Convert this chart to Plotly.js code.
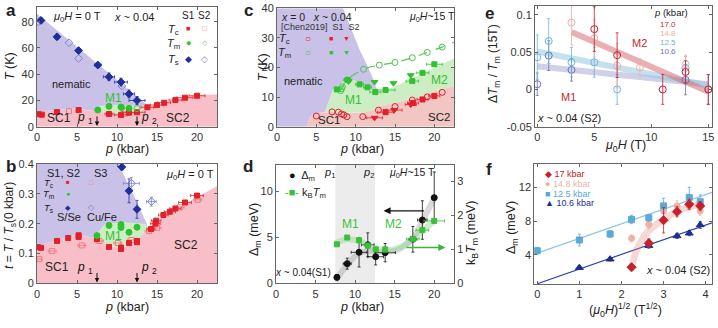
<!DOCTYPE html>
<html>
<head>
<meta charset="utf-8">
<script src="https://cdn.plot.ly/plotly-3.0.1.min.js"></script>
<style>body{margin:0;background:#fff}#chart{width:718px;height:328px}</style>
</head>
<body>
<div id="chart"></div>
<script>
// critical pressures p1, p2 (kbar)
var pCrit = [7.5, 12.5];

// ---- panel a : T (K) vs p, zero field
var aTsS1p = [0.5, 2.5, 5.2, 7.6, 9.0, 10.5, 11.5, 12.5];
var aTsS1T = [81, 68.5, 58, 47, 38, 34, 25, 20];
var aTsS1ex = [0.3, 0.3, 0.3, 0.4, 0.7, 0.8, 0.7, 1.0];
var aTsS1ey = [2, 2, 2, 2, 3, 3, 3, 3];
var aTsS2p = [0.2, 4.0, 5.2, 10.6];
var aTsS2T = [80, 64, 52, 31];
var aTcS1p = [0.2, 0.6, 2.5, 5.2, 9.0, 10.5, 11.5, 12.5, 13.8, 15.0, 15.9, 17.3, 18.5, 20.0];
var aTcS1T = [9.5, 9.2, 11.2, 12.7, 9.7, 9.0, 10.7, 11, 14.8, 16.5, 18.3, 20.3, 22.1, 23.6];
var aTcS1ex = [0, 0, 0, 0, 0.5, 0.8, 0.8, 1, 0.8, 0.8, 0.8, 0.8, 1, 1];
var aTcS2p = [4.0, 10.8];
var aTcS2T = [11.8, 9.8];
var aTmS1p = [7.6, 9.0, 10.5, 11.5];
var aTmS1T = [12.7, 15.5, 15.0, 14.0];
var aTmS2p = [10.6, 12.5];
var aTmS2T = [14.5, 13.8];
// phase regions (boundaries)
var aSCp = [0, 0, 2.5, 5, 6, 7.5, 9, 10.5, 12, 13, 14, 15.5, 17, 18.5, 20, 22.5, 22.5];
var aSCT = [0, 11.5, 12.8, 13.8, 12.8, 11.5, 10.5, 10.2, 11, 12.5, 15, 17.5, 20, 22.5, 24, 24.8, 0];
var aNemP = [0, 13.9, 13.0, 12, 10.5, 9, 7.5, 6, 5, 2.5, 0];
var aNemT = [86, 16, 12.5, 11, 10.2, 10.5, 11.5, 12.8, 13.8, 12.8, 11.5];
var aM1p = [7.5, 7.8, 9, 11, 13, 13.8, 13, 12, 10.5, 9];
var aM1T = [11.5, 15.8, 16.8, 16.6, 15.8, 15.2, 12.5, 11, 10.2, 10.5];

// ---- panel b : t = T/Ts(0 kbar) vs p
var bTcS12p = [0.1, 0.5, 2.5, 3.9, 5.2, 5.2, 7.5, 9.0, 10.5, 10.5, 11.5, 12.5, 12.5, 14.25, 14.9, 14.8, 15.8, 16.6, 17.3, 18.5, 20.0];
var bTcS12t = [0.121, 0.119, 0.142, 0.152, 0.161, 0.155, 0.148, 0.122, 0.120, 0.115, 0.135, 0.142, 0.138, 0.182, 0.210, 0.200, 0.229, 0.240, 0.251, 0.271, 0.294];
var bTcS12ex = [0, 0, 0, 0, 0, 0, 0, 0, 0, 0, 0, 0, 0, 0.5, 0.6, 0.6, 0.6, 0.7, 0.7, 0.8, 0.8];
var bTcS3p = [0.3, 1.9, 5.6, 7.8, 10.1, 11.8, 14.0, 15.0, 17.9, 20.1];
var bTcS3t = [0.081, 0.108, 0.127, 0.142, 0.135, 0.145, 0.175, 0.186, 0.255, 0.280];
var bTcS3ex = [0.3, 0.5, 0.5, 0.5, 0.5, 0.5, 0.5, 0.5, 0.5, 0.5];
var bTmP = [7.5, 9.0, 10.5, 10.5, 11.5, 12.5];
var bTmT = [0.160, 0.194, 0.197, 0.187, 0.171, 0.188];
var bTsS12p = [10.6, 11.5, 12.5];
var bTsS12t = [0.39, 0.31, 0.248];
var bTsS12ey = [0.01, 0.04, 0.03];
var bTsS3p = [11.8, 14.3];
var bTsS3t = [0.335, 0.274];
var bTsS3ex = [1.0, 0.6];
var bTsS3ey = [0.02, 0.015];
var bSCp = [0, 0, 2.5, 5, 7.5, 9, 10.5, 12, 13.5, 15, 17, 20, 22.5, 22.5];
var bSCt = [0, 0.125, 0.145, 0.163, 0.150, 0.125, 0.116, 0.135, 0.170, 0.210, 0.245, 0.290, 0.325, 0];
var bNemP = [0, 0, 10.2, 11.5, 12.7, 13.8, 13.5, 12, 10.5, 9, 7.5, 5, 2.5];
var bNemT = [0.125, 0.4, 0.4, 0.33, 0.26, 0.195, 0.170, 0.135, 0.116, 0.125, 0.150, 0.163, 0.145];
var bM1p = [7.5, 7.6, 8.5, 11, 13.5, 13.9, 13.5, 12, 10.5, 9];
var bM1t = [0.150, 0.170, 0.200, 0.205, 0.200, 0.190, 0.170, 0.135, 0.116, 0.125];

// ---- panel c : T (K) vs p at ~15 T
var cTcChenP = [5.0, 7.0, 7.8, 8.2, 8.5, 8.9, 10.9, 12.9, 15.0, 17.2, 19.1, 21.0];
var cTcChenT = [3.6, 5.0, 4.9, 4.3, 4.0, 3.4, 3.4, 5.6, 6.8, 9.0, 10.1, 11.6];
var cTmChenP = [8.1, 8.2, 8.3, 8.9, 11.0, 13.0, 15.0, 17.2, 19.1, 21.0];
var cTmChenT = [12.2, 12.8, 13.5, 15.8, 19.4, 20.8, 21.7, 23.3, 25.1, 26.9];
var cGuideP = [8.0, 8.9, 11.0, 13.0, 15.0, 17.2, 19.1, 21.0, 22.5];
var cGuideT = [12.0, 15.8, 19.4, 20.8, 21.7, 23.3, 25.1, 26.9, 28.5];
var cTcS1p = [13.8, 17.3, 18.5, 20.0];
var cTcS1T = [4.9, 8.0, 9.2, 10.4];
var cTcS1ex = [1.0, 0.7, 0.7, 0.7];
var cTcS2p = [12.4, 14.9, 17.0];
var cTcS2T = [3.0, 5.6, 7.5];
var cTcS2ex = [1.0, 1.0, 0.7];
var cTmS1p = [7.6, 9.0, 10.5, 11.5, 12.5, 13.8, 17.2, 18.5, 20.0];
var cTmS1T = [12.6, 15.8, 14.3, 13.3, 11.7, 12.4, 15.4, 18.2, 21.1];
var cTmS1ex = [0, 0.5, 0.5, 0.5, 0.7, 1.2, 0.8, 0.8, 1.0];
var cTmS2p = [9.1, 12.4, 14.8, 17.0];
var cTmS2T = [15.3, 15.1, 14.7, 17.4];
var cSCp = [3.8, 4.2, 5, 7, 9, 11, 12, 13, 15.5, 18, 20, 22.5, 22.5];
var cSCT = [0, 3.5, 4.6, 5, 4.8, 4.8, 5.5, 7, 8.4, 10.2, 12, 13.7, 0];
var cNemP = [0, 0, 8.4, 9.5, 10.5, 11.6, 12.4, 12.7, 12, 10.5, 9, 7.1, 6.1, 5, 4.2, 3.8];
var cNemT = [0, 40, 40, 33, 26, 20, 15, 12, 12.5, 15, 16.3, 12.4, 4.9, 4.6, 3.5, 0];
var cMp = [6.1, 7.1, 9, 10.5, 12, 12.7, 14, 17, 20, 22.5, 22.5, 20, 18, 15.5, 13, 12, 11, 9, 7];
var cMT = [4.9, 12.4, 16.3, 15, 12.5, 12, 12.5, 16, 20, 23, 13.7, 12, 10.2, 8.4, 7, 5.5, 4.8, 4.8, 5];

// ---- panel d : gap and kB*Tm vs p at ~15 T
var dP = [7.7, 9.0, 10.5, 11.6, 12.6, 13.8, 17.3, 18.5, 20.0];
var dDelta = [0.65, 2.14, 3.38, 4.2, 2.9, 3.34, 4.8, 6.9, 9.34];
var dDeltaEx = [0, 0.5, 1.0, 0.8, 1.0, 1.3, 0.5, 0.6, 0.3];
var dDeltaEy = [0.3, 0.6, 1.6, 1.3, 0.9, 1.0, 1.4, 2.1, 2.8];
var dKT = [1.15, 1.35, 1.27, 1.11, 1.0, 1.0, 1.31, 1.57, 1.84];
var dKTex = [0, 0, 0, 0, 0, 0, 0.8, 0.8, 1.3];
var dTrendP = [7.5, 9, 10.5, 12, 13.8, 15.5, 17.3, 18.5, 20];
var dTrendDelta = [0.3, 2.0, 3.3, 3.5, 3.4, 3.7, 4.9, 6.8, 9.3];
var dTrendKT = [1.18, 1.3, 1.25, 1.08, 0.98, 1.05, 1.3, 1.55, 1.82];

// ---- panel e : dTm/Tm(15T) vs field
var e170H = [5, 7, 11, 13, 15];
var e170v = [0.081, 0.046, 0, 0.0235, 0];
var e170err = [0.03, 0.03, 0.02, 0.015, 0.02];
var e148H = [3, 5, 7, 9, 13, 15];
var e148v = [0.0897, 0.0687, 0.032, 0.0293, 0.034, 0];
var e148err = [0.03, 0.025, 0.03, 0.012, 0.012, 0.02];
var e125H = [0, 1, 3, 5, 7, 13, 15];
var e125v = [0.0432, 0.065, 0.0365, 0.0365, 0, 0.029, 0];
var e125err = [0.03, 0.03, 0.02, 0.02, 0.02, 0.015, 0.02];
var e106H = [0, 1, 3, 13, 15];
var e106v = [0.007, 0.0454, 0.0262, 0.0128, 0];
var e106err = [0.015, 0.02, 0.015, 0.02, 0.02];
var eFit170H = [3, 15], eFit170v = [0.077, -0.003];
var eFit125H = [0, 15], eFit125v = [0.051, 0.005];
var eFit106H = [0, 15], eFit106v = [0.031, 0.007];

// ---- panel f : gap vs sqrt(field)
var f170s = [2.24, 2.65, 3.0, 3.32, 3.61, 3.87];
var f170d = [2.55, 5.4, 8.1, 9.1, 10.0, 9.8];
var f170err = [0.3, 0.5, 1.5, 0.6, 0.6, 0.5];
var f148s = [2.24, 2.65, 3.0, 3.32, 3.61, 3.87];
var f148d = [5.97, 7.6, 9.2, 9.8, 9.8, 9.2];
var f148err = [0.4, 0.5, 0.8, 0.6, 0.5, 0.5];
var f125s = [0, 1.0, 1.73, 2.24, 2.65, 3.0, 3.61, 3.87];
var f125d = [4.5, 5.77, 6.48, 8.2, 8.4, 9.8, 10.8, 10.3];
var f125err = [0.4, 0.7, 0.4, 0.5, 0.4, 0.9, 1.2, 0.8];
var f106s = [1.0, 1.73, 2.65, 3.32, 3.61, 3.87];
var f106d = [2.5, 3.5, 5.1, 6.25, 6.57, 7.55];
var f106err = [0.2, 0.2, 0.3, 0.3, 0.3, 0.4];
var fFit125s = [-0.07, 4.15], fFit125d = [4.1, 11.4];
var fFit106s = [0.0, 4.15], fFit106d = [0.6, 7.8];
var fCurveS = [2.24, 2.36, 2.5, 2.65, 3.0, 3.3, 3.6, 3.87];
var fCurveD = [2.5, 4.6, 5.9, 6.9, 8.2, 9.1, 9.7, 10.0];

// colours
var RED = '#e3202a', RED2 = '#f07a80', GREEN = '#2ec22e', GREEN2 = '#4cc44c', BLUE = '#1f2e9c', BLUE2 = '#7b86cc';
var FILL_NEM = '#c9c1e8', FILL_SC = '#f8bfc9', FILL_M = '#cdeec4', FILL_SC_C = '#f1c6c3';
var C170 = '#c41f2f', C148 = '#efb0a4', C125 = '#6fb3d9', C106 = '#6a70b8';
var FONT = 'Liberation Sans, Arial, Helvetica, sans-serif';

var W = 718, H = 328;
function px(a, b) { return [a / W, b / W]; }
function py(top, bottom) { return [1 - bottom / H, 1 - top / H]; }

function area(x, y, xa, ya, color) {
  return {x: x, y: y, xaxis: xa, yaxis: ya, type: 'scatter', mode: 'lines', fill: 'toself',
    fillcolor: color, line: {width: 0}, hoverinfo: 'skip', showlegend: false};
}
function pts(x, y, xa, ya, sym, color, size, ex, ey) {
  var t = {x: x, y: y, xaxis: xa, yaxis: ya, type: 'scatter', mode: 'markers', hoverinfo: 'skip', showlegend: false,
    marker: {symbol: sym, color: color, size: size, line: {color: color, width: 1}}};
  if (ex) t.error_x = {type: 'data', array: ex, color: color, thickness: 0.8, width: 1.5};
  if (ey) t.error_y = {type: 'data', array: ey, color: color, thickness: 0.8, width: 1.5};
  return t;
}
function band(x, y, xa, ya, color, w, dash) {
  return {x: x, y: y, xaxis: xa, yaxis: ya, type: 'scatter', mode: 'lines', hoverinfo: 'skip', showlegend: false,
    line: {color: color, width: w, shape: 'spline', dash: dash || 'solid'}};
}

var traces = [
  // a
  area(aSCp, aSCT, 'x', 'y', FILL_SC),
  area(aNemP, aNemT, 'x', 'y', FILL_NEM),
  area(aM1p, aM1T, 'x', 'y', FILL_M),
  pts(aTsS2p, aTsS2T, 'x', 'y', 'diamond-open', BLUE2, 6),
  pts(aTsS1p, aTsS1T, 'x', 'y', 'diamond', BLUE, 6, aTsS1ex, aTsS1ey),
  pts(aTcS2p, aTcS2T, 'x', 'y', 'square-open', RED2, 5),
  pts(aTcS1p, aTcS1T, 'x', 'y', 'square', RED, 5, aTcS1ex),
  pts(aTmS2p, aTmS2T, 'x', 'y', 'circle-open', GREEN2, 6),
  pts(aTmS1p, aTmS1T, 'x', 'y', 'circle', GREEN, 6),
  // b
  area(bSCp, bSCt, 'x2', 'y2', FILL_SC),
  area(bNemP, bNemT, 'x2', 'y2', FILL_NEM),
  area(bM1p, bM1t, 'x2', 'y2', FILL_M),
  pts(bTsS3p, bTsS3t, 'x2', 'y2', 'diamond-open', BLUE2, 6, bTsS3ex, bTsS3ey),
  pts(bTsS12p, bTsS12t, 'x2', 'y2', 'diamond', BLUE, 6, null, bTsS12ey),
  pts(bTcS3p, bTcS3t, 'x2', 'y2', 'square-open', RED2, 5, bTcS3ex),
  pts(bTcS12p, bTcS12t, 'x2', 'y2', 'square', RED, 5, bTcS12ex),
  pts(bTmP, bTmT, 'x2', 'y2', 'circle', GREEN, 6),
  // c
  area(cSCp, cSCT, 'x3', 'y3', FILL_SC_C),
  area(cNemP, cNemT, 'x3', 'y3', FILL_NEM),
  area(cMp, cMT, 'x3', 'y3', FILL_M),
  band(cGuideP, cGuideT, 'x3', 'y3', '#55c655', 1.2, 'dash'),
  pts(cTcChenP, cTcChenT, 'x3', 'y3', 'circle-open', RED, 6),
  pts(cTmChenP, cTmChenT, 'x3', 'y3', 'circle-open', GREEN2, 6),
  pts(cTcS1p, cTcS1T, 'x3', 'y3', 'square', RED, 5, cTcS1ex),
  pts(cTcS2p, cTcS2T, 'x3', 'y3', 'triangle-down', RED, 6, cTcS2ex),
  pts(cTmS1p, cTmS1T, 'x3', 'y3', 'square', GREEN, 5, cTmS1ex),
  pts(cTmS2p, cTmS2T, 'x3', 'y3', 'triangle-down', GREEN, 6),
  // d
  band(dTrendP, dTrendDelta, 'x4', 'y4', 'rgba(150,150,150,0.35)', 6),
  band(dTrendP, dTrendKT, 'x4', 'y7', 'rgba(120,205,120,0.35)', 6),
  pts(dP, dKT, 'x4', 'y7', 'square', '#3cbf3c', 5, dKTex),
  pts(dP, dDelta, 'x4', 'y4', 'circle', '#111', 6, dDeltaEx, dDeltaEy),
  // e
  band(eFit106H, eFit106v, 'x5', 'y5', 'rgba(150,150,205,0.45)', 6),
  band(eFit125H, eFit125v, 'x5', 'y5', 'rgba(150,200,225,0.55)', 6),
  band(eFit170H, eFit170v, 'x5', 'y5', 'rgba(215,110,115,0.55)', 6),
  pts(e106H, e106v, 'x5', 'y5', 'circle-open', C106, 7, null, e106err),
  pts(e125H, e125v, 'x5', 'y5', 'circle-open', C125, 7, null, e125err),
  pts(e148H, e148v, 'x5', 'y5', 'circle-open', C148, 7, null, e148err),
  pts(e170H, e170v, 'x5', 'y5', 'circle-open', C170, 7, null, e170err),
  // f
  band(fFit125s, fFit125d, 'x6', 'y6', '#8cc6e4', 1.2),
  band(fFit106s, fFit106d, 'x6', 'y6', '#3442a4', 1.2),
  band(fCurveS, fCurveD, 'x6', 'y6', 'rgba(235,140,140,0.35)', 7),
  pts(f148s, f148d, 'x6', 'y6', 'circle', C148, 6, null, f148err),
  pts(f125s, f125d, 'x6', 'y6', 'square', '#5aa9d6', 6, null, f125err),
  pts(f106s, f106d, 'x6', 'y6', 'triangle-up', '#1e2d8f', 7, null, f106err),
  pts(f170s, f170d, 'x6', 'y6', 'diamond', '#c8202a', 7, null, f170err)
];

function axis(dom, range, extra) {
  var o = {domain: dom, range: range, showgrid: false, zeroline: false, showline: true,
    linecolor: '#666', linewidth: 1, mirror: 'ticks', ticks: 'inside', ticklen: 3,
    tickcolor: '#666', tickfont: {size: 11, color: '#333'}, fixedrange: true};
  for (var k in extra) o[k] = extra[k];
  return o;
}

var ann = [];
function t(text, x, y, xr, yr, size, color, extra) {
  var a = {text: text, x: x, y: y, xref: xr, yref: yr, showarrow: false,
    font: {size: size, color: color || '#222', family: FONT}, xanchor: 'center', yanchor: 'middle'};
  for (var k in extra) a[k] = extra[k];
  ann.push(a);
}
function pt(text, xpx, ypx, size, extra) {
  var e = {borderpad: 0};
  for (var k in extra) e[k] = extra[k];
  t(text, xpx / W, 1 - ypx / H, 'paper', 'paper', size, '#222', e);
}
function arrow(x, y, xr, yr) {
  ann.push({x: x, y: y, xref: xr, yref: yr, text: '', showarrow: true, ax: 0, ay: -11,
    arrowhead: 2, arrowsize: 0.9, arrowwidth: 1, arrowcolor: '#111'});
}

// panel letters
[['a', 11, 10], ['b', 11, 166], ['c', 248, 10], ['d', 248, 166], ['e', 489, 13], ['f', 489, 169]].forEach(function (l) {
  pt('<b>' + l[0] + '</b>', l[1], l[2], 17);
});

// axis titles
pt('<i>p</i> (kbar)', 127, 149, 12.5);
pt('<i>T</i> (K)', 10, 66, 12.5, {textangle: -90});
pt('<i>p</i> (kbar)', 127, 307, 12.5);
pt('<i>t</i> = <i>T</i> / <i>T</i><sub>s</sub>(0 kbar)', 10, 226, 12, {textangle: -90});
pt('<i>p</i> (kbar)', 362, 149, 12.5);
pt('<i>T</i> (K)', 263, 67, 12.5, {textangle: -90});
pt('<i>p</i> (kbar)', 362, 307, 12.5);
pt('Δ<sub>m</sub> (meV)', 255, 230, 12.5, {textangle: -90});
pt('k<sub>B</sub><i>T</i><sub>m</sub> (meV)', 472, 232, 12.5, {textangle: -90});
pt('<i>μ</i><sub>0</sub><i>H</i> (T)', 625, 146, 12.5);
pt('Δ<i>T</i><sub>m</sub> / <i>T</i><sub>m</sub> (15T)', 494, 64, 12, {textangle: -90});
pt('(<i>μ</i><sub>0</sub><i>H</i>)<sup>1/2</sup> (T<sup>1/2</sup>)', 625, 310, 12.5);
pt('Δ<sub>m</sub> (meV)', 512, 228, 12.5, {textangle: -90});

// panel a texts
t('<i>μ</i><sub>0</sub><i>H</i> = 0 T', 5.0, 83.5, 'x', 'y', 11);
t('<i>x</i> ~ 0.04', 12.1, 83.5, 'x', 'y', 11);
t('S1', 18.9, 85, 'x', 'y', 10); t('S2', 20.9, 85, 'x', 'y', 10);
t('<i>T</i><sub>c</sub>', 17.1, 74, 'x', 'y', 11);
t('<i>T</i><sub>m</sub>', 17.1, 63, 'x', 'y', 11);
t('<i>T</i><sub>s</sub>', 17.1, 51, 'x', 'y', 11);
t('■', 18.9, 74.5, 'x', 'y', 7, RED); t('□', 20.9, 74.5, 'x', 'y', 8, RED2);
t('●', 18.9, 63.5, 'x', 'y', 9, GREEN); t('○', 20.9, 63.5, 'x', 'y', 9, GREEN2);
t('◆', 18.9, 51.5, 'x', 'y', 9, BLUE); t('◇', 20.9, 51.5, 'x', 'y', 9, BLUE2);
t('nematic', 4.3, 32.5, 'x', 'y', 11);
t('M1', 9.5, 21.5, 'x', 'y', 12, GREEN);
t('SC1', 2.8, 6.3, 'x', 'y', 12);
t('SC2', 17.6, 6.3, 'x', 'y', 12);
t('<i>p</i> <sub>1</sub>', pCrit[0] - 0.2, 6.5, 'x', 'y', 12, '#111', {xanchor: 'right'});
t('<i>p</i> <sub>2</sub>', pCrit[1] + 0.3, 6.5, 'x', 'y', 12, '#111', {xanchor: 'left'});
arrow(pCrit[0], 0.6, 'x', 'y'); arrow(pCrit[1], 0.6, 'x', 'y');

// panel b texts
t('S1, S2', 3.3, 0.369, 'x2', 'y2', 11); t('S3', 7.9, 0.369, 'x2', 'y2', 11);
t('<i>T</i><sub>c</sub>', 1.5, 0.337, 'x2', 'y2', 9.5);
t('<i>T</i><sub>m</sub>', 1.5, 0.298, 'x2', 'y2', 9.5);
t('<i>T</i><sub>s</sub>', 1.5, 0.253, 'x2', 'y2', 9.5);
t('■', 3.9, 0.339, 'x2', 'y2', 6, RED); t('□', 6.8, 0.339, 'x2', 'y2', 7, RED2);
t('●', 3.9, 0.300, 'x2', 'y2', 7, GREEN);
t('◆', 3.9, 0.255, 'x2', 'y2', 7, BLUE); t('◇', 6.8, 0.255, 'x2', 'y2', 8, BLUE2);
t('S/Se', 4.0, 0.222, 'x2', 'y2', 11); t('Cu/Fe', 8.1, 0.222, 'x2', 'y2', 11);
t('<i>μ</i><sub>0</sub><i>H</i> = 0 T', 19.1, 0.363, 'x2', 'y2', 11);
t('M1', 9.5, 0.158, 'x2', 'y2', 12, GREEN);
t('SC2', 18.6, 0.128, 'x2', 'y2', 12);
t('SC1', 2.5, 0.053, 'x2', 'y2', 12);
t('<i>p</i> <sub>1</sub>', pCrit[0] - 0.2, 0.05, 'x2', 'y2', 12, '#111', {xanchor: 'right'});
t('<i>p</i> <sub>2</sub>', pCrit[1] + 0.3, 0.05, 'x2', 'y2', 12, '#111', {xanchor: 'left'});
arrow(pCrit[0], 0.003, 'x2', 'y2'); arrow(pCrit[1], 0.003, 'x2', 'y2');

// panel c texts
t('<i>x</i> = 0   <i>x</i> ~ 0.04', 0.3, 37.2, 'x3', 'y3', 10.5, '#222', {xanchor: 'left'});
t('[Chen2019]  S1  S2', 0.2, 33.8, 'x3', 'y3', 9, '#333', {xanchor: 'left'});
t('<i>T</i><sub>c</sub>', 1.0, 29.6, 'x3', 'y3', 11);
t('<i>T</i><sub>m</sub>', 1.0, 24.8, 'x3', 'y3', 11);
t('○', 4.0, 29.8, 'x3', 'y3', 10, RED); t('■', 6.9, 29.8, 'x3', 'y3', 7, RED); t('▼', 8.8, 29.8, 'x3', 'y3', 7, RED);
t('○', 4.0, 25.0, 'x3', 'y3', 10, GREEN2); t('■', 6.9, 25.0, 'x3', 'y3', 7, GREEN); t('▼', 8.8, 25.0, 'x3', 'y3', 7, GREEN);
t('<i>μ</i><sub>0</sub><i>H</i>~15 T', 19.7, 36.9, 'x3', 'y3', 10.5);
t('nematic', 3.4, 15.4, 'x3', 'y3', 11);
t('M1', 9.7, 9.0, 'x3', 'y3', 12, GREEN);
t('M2', 20.7, 15.8, 'x3', 'y3', 12, GREEN);
t('SC1', 6.6, 2.3, 'x3', 'y3', 11.5);
t('SC2', 20.6, 3.4, 'x3', 'y3', 11.5);

// panel d texts
t('<span style="color:#111">●</span>  Δ<sub>m</sub>', 1.4, 11.7, 'x4', 'y4', 11, '#222', {xanchor: 'left'});
t('<span style="color:#3cbf3c">-■-</span> k<sub>B</sub><i>T</i><sub>m</sub>', 0.9, 9.9, 'x4', 'y4', 11, '#222', {xanchor: 'left'});
t('<i>p</i><sub>1</sub>', 6.8, 12.0, 'x4', 'y4', 11);
t('<i>p</i><sub>2</sub>', 11.7, 12.0, 'x4', 'y4', 11);
t('<i>μ</i><sub>0</sub><i>H</i>~15 T', 17.2, 12.0, 'x4', 'y4', 10.5);
t('<i>x</i> ~ 0.04(S1)', 3.4, 1.2, 'x4', 'y4', 10);
t('M1', 9.4, 6.5, 'x4', 'y4', 12, '#3cbf3c');
t('M2', 14.85, 6.5, 'x4', 'y4', 12, '#3cbf3c');
ann.push({x: 13.6, y: 7.9, xref: 'x4', yref: 'y4', ax: 18.9, ay: 7.9, axref: 'x4', ayref: 'y4', text: '',
  showarrow: true, arrowhead: 2, arrowsize: 1, arrowwidth: 1.4, arrowcolor: '#111'});
ann.push({x: 21.4, y: 3.9, xref: 'x4', yref: 'y4', ax: 16.3, ay: 3.9, axref: 'x4', ayref: 'y4', text: '',
  showarrow: true, arrowhead: 2, arrowsize: 1, arrowwidth: 1.4, arrowcolor: '#3cb43c'});

// panel e texts
t('<i>p</i> (kbar)', 11.7, 0.1027, 'x5', 'y5', 9.5, '#222', {borderpad: 0});
t('17.0', 11.5, 0.0876, 'x5', 'y5', 8, C170, {borderpad: 0});
t('14.8', 11.5, 0.0755, 'x5', 'y5', 8, C148, {borderpad: 0});
t('12.5', 11.5, 0.0634, 'x5', 'y5', 8, C125, {borderpad: 0});
t('10.6', 11.5, 0.0513, 'x5', 'y5', 8, C106, {borderpad: 0});
t('M1', 2.7, -0.0097, 'x5', 'y5', 11, C170);
t('M2', 9.0, 0.062, 'x5', 'y5', 11, C170);
t('<i>x</i> ~ 0.04 (S2)', 2.8, -0.038, 'x5', 'y5', 11);

// panel f texts
t('<span style="color:#c8202a">◆</span> 17 kbar', 0.15, 13.55, 'x6', 'y6', 9, '#c8202a', {xanchor: 'left', borderpad: 0});
t('<span style="color:' + C148 + '">●</span> 14.8 kbar', 0.15, 12.4, 'x6', 'y6', 9, C148, {xanchor: 'left', borderpad: 0});
t('<span style="color:#5aa9d6">■</span> 12.5 kbar', 0.15, 11.25, 'x6', 'y6', 9, '#5aa9d6', {xanchor: 'left', borderpad: 0});
t('<span style="color:#1e2d8f">▲</span> 10.6 kbar', 0.15, 10.1, 'x6', 'y6', 9, '#1e2d8f', {xanchor: 'left', borderpad: 0});
t('<i>x</i> ~ 0.04 (S2)', 3.35, 2.2, 'x6', 'y6', 11);

var layout = {
  width: W, height: H, margin: {l: 0, r: 0, t: 0, b: 0},
  paper_bgcolor: '#fff', plot_bgcolor: '#fff', showlegend: false,
  font: {family: FONT, size: 11, color: '#222'},
  xaxis: axis(px(37, 217), [0, 22.5], {anchor: 'y', tickvals: [0, 5, 10, 15, 20]}),
  yaxis: axis(py(7.3, 126.7), [0, 91], {anchor: 'x', tickvals: [0, 20, 40, 60, 80]}),
  xaxis2: axis(px(37, 217), [0, 22.5], {anchor: 'y2', tickvals: [0, 5, 10, 15, 20]}),
  yaxis2: axis(py(164, 283.3), [0, 0.4], {anchor: 'x2', tickvals: [0, 0.1, 0.2, 0.3, 0.4], ticktext: ['0', '0.1', '0.2', '0.3', '0.4']}),
  xaxis3: axis(px(277, 454), [0, 22.5], {anchor: 'y3', tickvals: [0, 5, 10, 15, 20]}),
  yaxis3: axis(py(8.3, 126.7), [0, 40], {anchor: 'x3', tickvals: [0, 10, 20, 30, 40]}),
  xaxis4: axis(px(276, 454), [0, 22.5], {anchor: 'y4', tickvals: [0, 5, 10, 15, 20]}),
  yaxis4: axis(py(165, 283.3), [0, 12.9], {anchor: 'x4', tickvals: [0, 5, 10], mirror: false}),
  yaxis7: axis(py(165, 283.3), [0, 3.49], {anchor: 'x4', overlaying: 'y4', side: 'right', tickvals: [0, 1, 2, 3], mirror: false}),
  xaxis5: axis(px(535, 712), [-0.2, 15.32], {anchor: 'y5', tickvals: [0, 5, 10, 15]}),
  yaxis5: axis(py(6, 126.7), [-0.05, 0.112], {anchor: 'x5', tickvals: [-0.05, 0, 0.05, 0.1], ticktext: ['-0.05', '0', '0.05', '0.1']}),
  xaxis6: axis(px(534.3, 712), [-0.07, 4.15], {anchor: 'y6', tickvals: [0, 1, 2, 3, 4]}),
  yaxis6: axis(py(164, 284), [0.57, 14.75], {anchor: 'x6', tickvals: [4, 8, 12]}),
  shapes: [{type: 'rect', xref: 'x4', yref: 'y4 domain', x0: pCrit[0], x1: pCrit[1], y0: 0, y1: 1,
    fillcolor: '#ececec', line: {width: 0}, layer: 'below'}],
  annotations: ann
};

Plotly.newPlot('chart', traces, layout, {staticPlot: true, displayModeBar: false});
</script>
</body>
</html>
